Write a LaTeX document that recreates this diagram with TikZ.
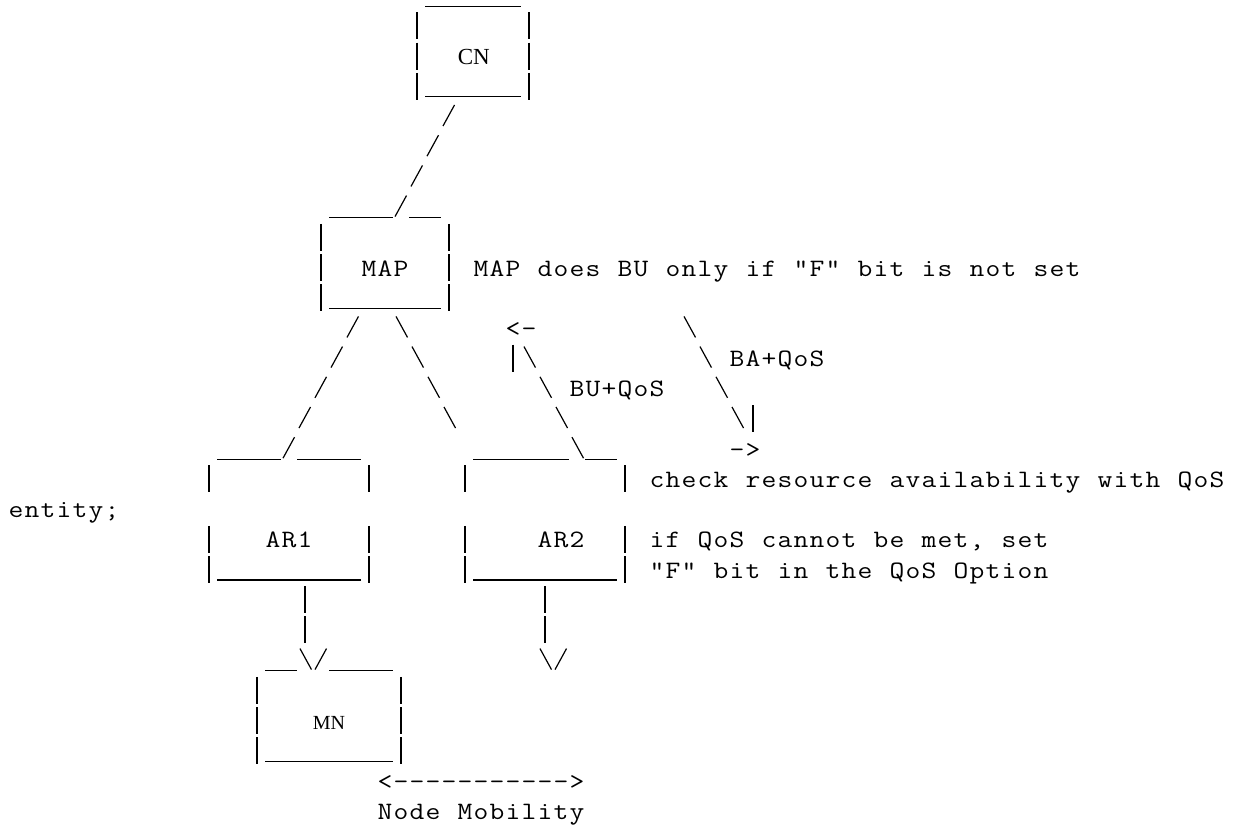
\documentclass[tikz,border=0pt]{standalone}
\usepackage{fontspec}
\usepackage{graphicx}
\newfontfamily\serifcn{Liberation Serif}
\makeatletter
\newcommand\gridchars[1]{\@tfor\gc@c:=#1\do{\makebox[16pt][c]{\scalebox{1.15}[1]{\gc@c}}}}
\makeatother
\tikzset{
  art/.style={line width=1.2pt, line cap=butt, draw=black},
  asc/.style={inner sep=0pt, outer sep=0pt, anchor=base west, font=\ttfamily\fontsize{25}{30}\selectfont},
  lbl/.style={inner sep=0pt, outer sep=0pt, anchor=base, font=\serifcn\fontsize{23}{28}\selectfont},
}
% column c, line k: cell starts at x = 16c-7, baseline at y = 30.2k+4.2 (y grows downward)
\newcommand\avbar[2]{\draw[art] ({#1*16+1},{30.2*#2-17.8}) -- ++(0,27);}
\newcommand\aunder[3]{\draw[art] ({#1*16-7},{30.2*#3+6.2}) -- ({#2*16+9},{30.2*#3+6.2});}
\newcommand\aslash[2]{\draw[art] ({#1*16-5},{30.2*#2+5.2}) -- ++(11.5,-21);}
\newcommand\abslash[2]{\draw[art] ({#1*16-4},{30.2*#2-15.8}) -- ++(11.5,21);}
\newcommand\asciitext[4]{\node[asc] (#1) at ({#2*16-7},{30.2*#3+4.2}) {\gridchars{#4}};}
\begin{document}
\begin{tikzpicture}[x=1pt,y=-1pt]
\fill[white] (0,0) rectangle (1233,824);
\useasboundingbox (0,0) rectangle (1233,824);
% CN box
\aunder{27}{32}{0}
\avbar{26}{1}\avbar{33}{1}
\avbar{26}{2}\avbar{33}{2}
\node[lbl] (CN) at (473.8,64.6) {CN};
\avbar{26}{3}\avbar{33}{3}\aunder{27}{32}{3}
% CN -- MAP
\aslash{28}{4}
\aslash{27}{5}
\aslash{26}{6}
% MAP box
\aunder{21}{24}{7}\aslash{25}{7}\aunder{26}{27}{7}
\avbar{20}{8}\avbar{28}{8}
\avbar{20}{9}\avbar{28}{9}
\asciitext{MAP}{23}{9}{MAP}
\asciitext{mapnote}{30}{9}{MAP~does~BU~only~if~"F"~bit~is~not~set}
\avbar{20}{10}\avbar{28}{10}\aunder{21}{27}{10}
% links below MAP
\aslash{22}{11}\abslash{25}{11}
\asciitext{buarrow}{32}{11}{<-}
\abslash{43}{11}
\aslash{21}{12}\abslash{26}{12}
\avbar{32}{12}\abslash{33}{12}
\abslash{44}{12}
\asciitext{baqos}{46}{12}{BA+QoS}
\aslash{20}{13}\abslash{27}{13}
\abslash{34}{13}
\asciitext{buqos}{36}{13}{BU+QoS}
\abslash{45}{13}
\aslash{19}{14}\abslash{28}{14}
\abslash{35}{14}
\abslash{46}{14}\avbar{47}{14}
% AR1 and AR2 boxes
\aunder{14}{17}{15}\aslash{18}{15}\aunder{19}{22}{15}
\aunder{30}{35}{15}\abslash{36}{15}\aunder{37}{38}{15}
\asciitext{baarrow}{46}{15}{->}
\avbar{13}{16}\avbar{23}{16}\avbar{29}{16}\avbar{39}{16}
\asciitext{check}{41}{16}{check~resource~availability~with~QoS}
\node[asc] (entity) at (8,{30.2*17+4.2}) {\gridchars{entity;}};
\avbar{13}{18}\avbar{23}{18}\avbar{29}{18}\avbar{39}{18}
\asciitext{AR1}{17}{18}{AR1}
\asciitext{AR2}{34}{18}{AR2}
\asciitext{ifqos}{41}{18}{if~QoS~cannot~be~met,~set}
\avbar{13}{19}\avbar{23}{19}\avbar{29}{19}\avbar{39}{19}
\aunder{14}{22}{19}\aunder{30}{38}{19}
\asciitext{fbit}{41}{19}{"F"~bit~in~the~QoS~Option}
% AR1 -> MN, AR2 -> down
\avbar{19}{20}\avbar{34}{20}
\avbar{19}{21}\avbar{34}{21}
\aunder{17}{18}{22}\abslash{19}{22}\aslash{20}{22}\aunder{21}{24}{22}
\abslash{34}{22}\aslash{35}{22}
% MN box
\avbar{16}{23}\avbar{25}{23}
\avbar{16}{24}\avbar{25}{24}
\node[lbl,font=\serifcn\fontsize{20}{24}\selectfont] (MN) at (329,729) {MN};
\avbar{16}{25}\avbar{25}{25}\aunder{17}{24}{25}
% mobility
\asciitext{mobarrow}{24}{26}{<----------->}
\asciitext{mobility}{24}{27}{Node~Mobility}
\end{tikzpicture}
\end{document}
